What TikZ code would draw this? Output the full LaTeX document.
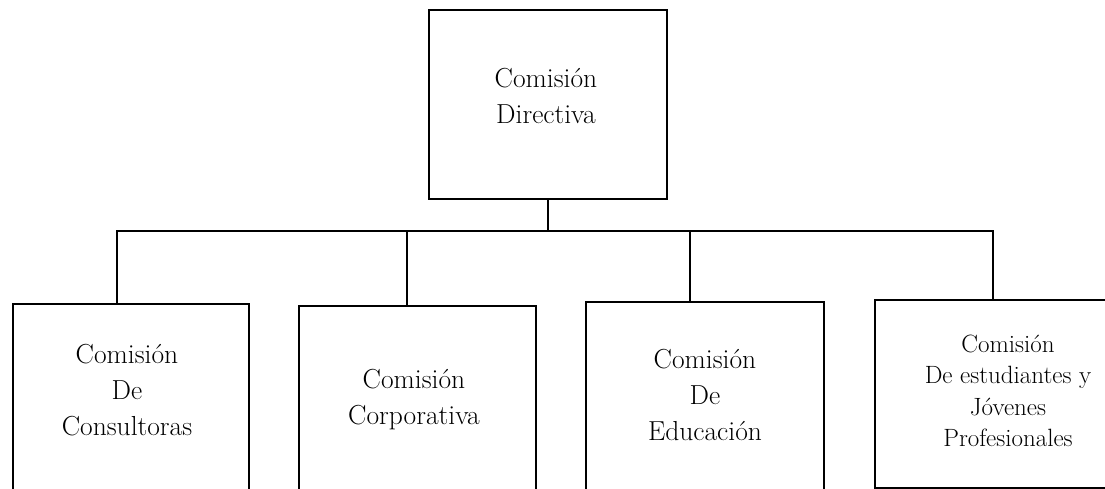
\documentclass[tikz,border=0pt]{standalone}
\usepackage{tikz}
\usetikzlibrary{positioning, calc}
\tikzset{
  orgbox/.style={
    draw, line width=1.9pt, anchor=north west, inner sep=0pt
  },
  orgtext/.style={
    align=center, inner sep=0pt,
    font=\fontsize{27.5}{36}\selectfont
  },
  orgtextsmall/.style={
    align=center, inner sep=0pt,
    font=\fontsize{25}{31.3}\selectfont
  },
  orgline/.style={
    line width=1.9pt
  },
}

\begin{document}
\begin{tikzpicture}[x=1pt, y=-1pt]
  \clip (0,0) rectangle (1105,489);

  % ── Top: Comisión Directiva ──
  \node[orgbox, minimum width=238pt, minimum height=189pt] (dir) at (428,9) {};
  \node[orgtext] (dirtxt) at (546,96) {Comisión\\Directiva};

  % ── Bottom row ──
  \node[orgbox, minimum width=236pt, minimum height=230pt] (consult) at (12,303) {};
  \node[orgtext] (consulttxt) at (127,390) {Comisión\\De\\Consultoras};

  \node[orgbox, minimum width=237pt, minimum height=230pt] (corp) at (298,305) {};
  \node[orgtext] (corptxt) at (414,400) {Comisión\\Corporativa};

  \node[orgbox, minimum width=238pt, minimum height=230pt] (educ) at (585,301) {};
  \node[orgtext] (eductxt) at (705,395) {Comisión\\De\\Educación};

  \node[orgbox, minimum width=272pt, minimum height=188pt] (jov) at (874,299) {};
  \node[orgtextsmall] (jovtxt) at (1008,391)
    {Comisión\\De estudiantes y\\Jóvenes\\Profesionales};

  % ── Connectors ──
  \coordinate (busL) at (117,231);
  \coordinate (busR) at (993,231);
  \coordinate (dropcorp) at (407,231);
  \coordinate (dropeduc) at (690,231);

  \draw[orgline] (dir.south) -- (dir.south |- busL);
  \draw[orgline] (busL |- consult.north) -- (busL) -- (busR) -- (busR |- jov.north);
  \draw[orgline] (dropcorp) -- (dropcorp |- corp.north);
  \draw[orgline] (dropeduc) -- (dropeduc |- educ.north);
\end{tikzpicture}
\end{document}
